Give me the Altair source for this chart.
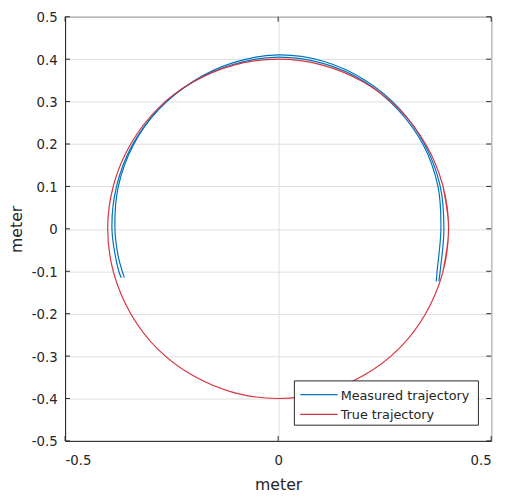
import altair as alt
import pandas as pd

# ---- data ----
series_names = ["Measured trajectory", "True trajectory"]
series_colors = ["#0072BD", "#D9333F"]

true_x = [0.386, 0.400, 0.386, 0.346, 0.283, 0.200, 0.104, 0.000, -0.104, -0.200, -0.283, -0.346, -0.386,
          -0.400, -0.386, -0.346, -0.283, -0.200, -0.104, 0.000, 0.104, 0.200, 0.283, 0.346, 0.386, 0.400,
          0.386]
true_y = [-0.104, 0.000, 0.104, 0.200, 0.283, 0.346, 0.386, 0.400, 0.386, 0.346, 0.283, 0.200, 0.104,
          0.000, -0.104, -0.200, -0.283, -0.346, -0.386, -0.400, -0.386, -0.346, -0.283, -0.200, -0.104, 0.000,
          0.104]

meas1_x = [-0.361, -0.375, -0.383, -0.375, -0.340, -0.281, -0.201, -0.105, 0.000, 0.106, 0.203,
           0.284, 0.344, 0.380, 0.389, 0.380, 0.377]
meas1_y = [-0.115, -0.066, 0.000, 0.100, 0.197, 0.281, 0.347, 0.392, 0.410, 0.395, 0.351,
           0.284, 0.199, 0.102, 0.000, -0.102, -0.124]

meas2_x = [0.371, 0.373, 0.382, 0.375, 0.341, 0.281, 0.201, 0.105, 0.000, -0.104, -0.200,
           -0.281, -0.342, -0.379, -0.390, -0.374, -0.368]
meas2_y = [-0.124, -0.100, 0.000, 0.100, 0.197, 0.281, 0.348, 0.390, 0.405, 0.388, 0.346,
           0.281, 0.198, 0.101, 0.000, -0.100, -0.115]

x_ticks = [-0.5, 0, 0.5]
y_ticks = [-0.5, -0.4, -0.3, -0.2, -0.1, 0, 0.1, 0.2, 0.3, 0.4, 0.5]

rows = []
for lap, (xs_, ys_) in enumerate([(meas1_x, meas1_y), (meas2_x, meas2_y)]):
    for i, (x, y) in enumerate(zip(xs_, ys_)):
        rows.append({"series": series_names[0], "lap": lap, "i": i, "x": x, "y": y})
for i, (x, y) in enumerate(zip(true_x, true_y)):
    rows.append({"series": series_names[1], "lap": 9, "i": i, "x": x, "y": y})
df = pd.DataFrame(rows)

W, H = 433, 431
FONT = "DejaVu Sans"
TXT = "#262626"
LBL = "toString(datum.value)"
xs = alt.Scale(domain=[-0.5, 0.5], nice=False, zero=False)
ys = alt.Scale(domain=[-0.5, 0.5], nice=False, zero=False)
x_axis = alt.Axis(values=x_ticks, labelExpr=LBL, title="meter", labelPadding=13, titlePadding=10)
y_axis = alt.Axis(values=y_ticks, labelExpr=LBL, title="meter", labelPadding=8, titlePadding=7,
                  labelOffset=1)

lines = alt.Chart(df).mark_line(strokeWidth=1.2, interpolate="catmull-rom").encode(
    x=alt.X("x:Q", scale=xs, axis=x_axis),
    y=alt.Y("y:Q", scale=ys, axis=y_axis),
    color=alt.Color("series:N", scale=alt.Scale(domain=series_names, range=series_colors),
                    sort=series_names, legend=None),
    detail="lap:N",
    order="i:Q",
)

yt = pd.DataFrame({"y": y_ticks})
xt = pd.DataFrame({"x": x_ticks})
rt = alt.Chart(yt).mark_rule(color=TXT, strokeWidth=1).encode(
    y=alt.Y("y:Q", scale=ys, axis=y_axis), x=alt.value(W - 5), x2=alt.value(W))
lt = alt.Chart(yt).mark_rule(color=TXT, strokeWidth=1).encode(
    y=alt.Y("y:Q", scale=ys, axis=y_axis), x=alt.value(0), x2=alt.value(5))
tt = alt.Chart(xt).mark_rule(color=TXT, strokeWidth=1).encode(
    x=alt.X("x:Q", scale=xs, axis=x_axis), y=alt.value(0), y2=alt.value(5))
bt = alt.Chart(xt).mark_rule(color=TXT, strokeWidth=1).encode(
    x=alt.X("x:Q", scale=xs, axis=x_axis), y=alt.value(H - 5), y2=alt.value(H))

# ---- manual legend (MATLAB style box) ----
one = pd.DataFrame({"a": [0]})
LX0, LX1, LY0, LY1 = 233, 420, 370, 415
box = alt.Chart(one).mark_rect(fill="white", stroke=TXT, strokeWidth=1).encode(
    x=alt.value(LX0), x2=alt.value(LX1), y=alt.value(LY0), y2=alt.value(LY1))
leg_layers = [box]
for k, (name, col) in enumerate(zip(series_names, series_colors)):
    yy = 384 + 20 * k
    leg_layers.append(alt.Chart(one).mark_rule(color=col, strokeWidth=1.2).encode(
        x=alt.value(LX0 + 6), x2=alt.value(LX0 + 44), y=alt.value(yy)))
    leg_layers.append(alt.Chart(one).mark_text(
        text=name, align="left", baseline="middle", font=FONT, fontSize=13, color=TXT).encode(
        x=alt.value(LX0 + 47), y=alt.value(yy + 1)))

chart = alt.layer(lines, rt, lt, tt, bt, *leg_layers).properties(
    width=W, height=H,
    autosize=alt.AutoSizeParams(type="none"),
    padding={"left": 58, "top": 5, "right": 13, "bottom": 49},
    background="white",
).configure_view(stroke=TXT, strokeWidth=1).configure_axis(
    labelFont=FONT, labelFontSize=13.5, labelColor=TXT,
    titleFont=FONT, titleFontSize=16, titleColor=TXT, titleFontWeight="normal",
    tickSize=0, domainColor=TXT, domainWidth=1,
    grid=True, gridColor="#dedede", gridWidth=1,
)

chart.save("out.html", embed_options={"renderer": "svg", "actions": False})
